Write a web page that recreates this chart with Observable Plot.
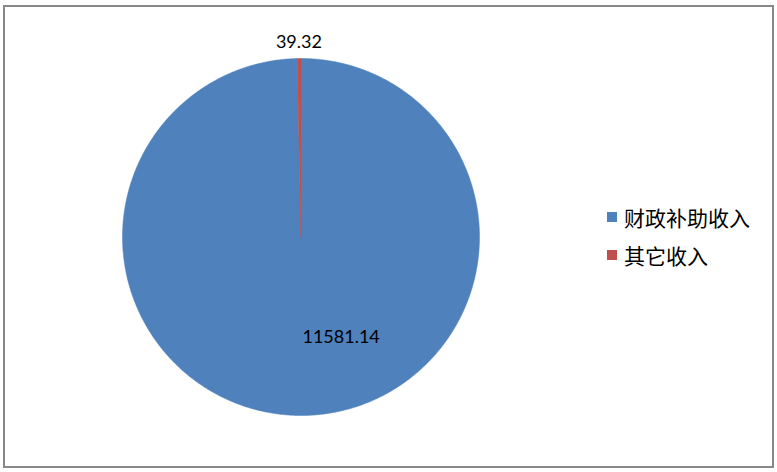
<!DOCTYPE html>
<html>
<head>
<meta charset="utf-8">
<script src="https://cdn.jsdelivr.net/npm/d3@7"></script>
<script src="https://cdn.jsdelivr.net/npm/@observablehq/plot@0.6"></script>
<style>
  html, body { margin: 0; padding: 0; background: #fff; }
  #wrap { position: relative; width: 777px; height: 472px; overflow: hidden; }
  #border { position: absolute; left: 3px; top: 5px; width: 767px; height: 459px; border: 2px solid #888; box-sizing: content-box; pointer-events: none; }
  #chart { position: absolute; left: 0; top: 0; }
  #legend { position: absolute; left: 607px; top: 198px; font-family: "Noto Sans CJK SC", sans-serif; font-size: 21px; color: #000; }
  .row { display: flex; align-items: center; height: 38px; }
  .sw { width: 10px; height: 10px; margin-right: 7px; }
</style>
</head>
<body>
<div id="wrap">
  <div id="chart"></div>
  <div id="legend"></div>
  <div id="border"></div>
</div>
<script>
const categories = ["财政补助收入", "其它收入"];
const values = [11581.14, 39.32];
const colors = ["#4F81BD", "#C0504D"];
const valueLabels = ["11581.14", "39.32"];

// pie geometry (clockwise from 12 o'clock, like Excel)
const total = d3.sum(values);
let acc = 0;
const slices = values.map((v, i) => {
  const a0 = acc / total * 2 * Math.PI;
  acc += v;
  const a1 = acc / total * 2 * Math.PI;
  return {cat: categories[i], value: v, label: valueLabels[i], a0, a1};
});

const pts = [];
for (const s of slices) {
  pts.push({cat: s.cat, x: 0, y: 0});
  const n = Math.max(2, Math.ceil((s.a1 - s.a0) / (Math.PI / 360)));
  for (let k = 0; k <= n; k++) {
    const a = s.a0 + (s.a1 - s.a0) * k / n;
    pts.push({cat: s.cat, x: Math.sin(a), y: Math.cos(a)});
  }
  pts.push({cat: s.cat, x: 0, y: 0});
}

// label placement: large slice inside (best fit), small slice outside
const labels = slices.map((s, i) => {
  const mid = (s.a0 + s.a1) / 2;
  const inside = s.value / total > 0.5;
  const a = inside ? mid - 0.37 : mid;
  const r = inside ? 0.605 : 1.09;
  return {label: s.label, x: r * Math.sin(a), y: r * Math.cos(a)};
});

const chart = Plot.plot({
  width: 777,
  height: 472,
  margin: 0,
  x: {domain: [-1, 1], range: [122, 479], axis: null},
  y: {domain: [-1, 1], range: [415, 58], axis: null},
  color: {domain: categories, range: colors},
  style: {fontFamily: "Lato, sans-serif", background: "transparent"},
  marks: [
    Plot.line(pts, {x: "x", y: "y", z: "cat", fill: "cat", stroke: "cat", strokeWidth: 0.5, curve: "linear"}),
    Plot.text(labels, {x: "x", y: "y", text: "label", fontSize: 18, fill: "#000", textAnchor: "middle"})
  ]
});
document.getElementById("chart").appendChild(chart);

const legend = document.getElementById("legend");
categories.forEach((c, i) => {
  const row = document.createElement("div");
  row.className = "row";
  const sw = document.createElement("div");
  sw.className = "sw";
  sw.style.background = colors[i];
  const t = document.createElement("span");
  t.textContent = c;
  row.appendChild(sw);
  row.appendChild(t);
  legend.appendChild(row);
});
</script>
</body>
</html>
